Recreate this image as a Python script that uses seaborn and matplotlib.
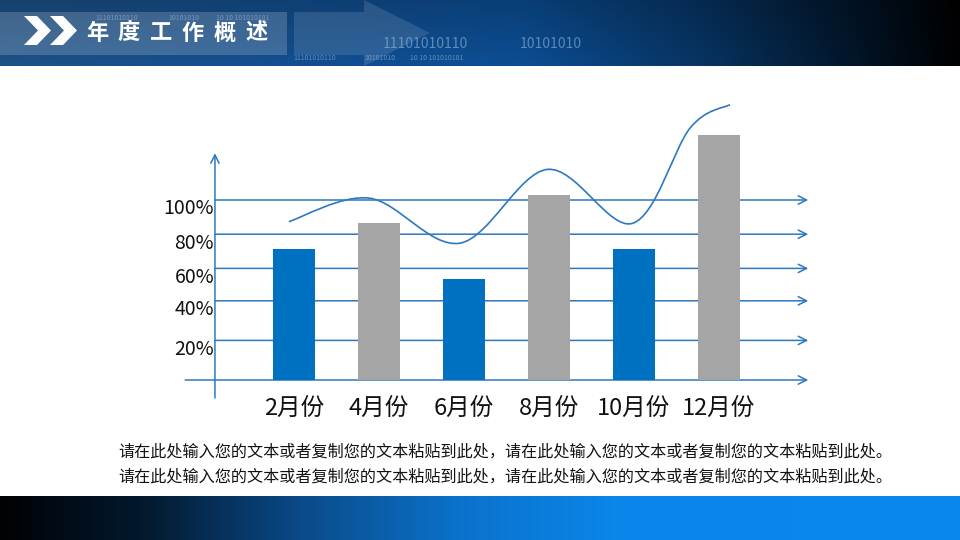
import numpy as np
import pandas as pd
import matplotlib
matplotlib.use("Agg")
import matplotlib.pyplot as plt
import seaborn as sns
from matplotlib.path import Path
from matplotlib.patches import PathPatch, Polygon, Rectangle

# ---- data ----
months = ["2月份", "4月份", "6月份", "8月份", "10月份", "12月份"]
bar_values = [73, 87, 56, 103, 73, 136]
bar_colors = ["#0070C0", "#A5A5A5", "#0070C0", "#A5A5A5", "#0070C0", "#A5A5A5"]

grid_levels = [0, 22, 44, 62, 81, 100]
grid_labels = ["", "20%", "40%", "60%", "80%", "100%"]

# anchor points of the smooth trend line (x in category units)
curve_x = [-0.06, 0.89, 1.95, 2.98, 3.98, 4.66, 5.13]
curve_y = [88, 101, 76, 117, 87, 140, 153]

title = "年度工作概述"
note = "请在此处输入您的文本或者复制您的文本粘贴到此处，请在此处输入您的文本或者复制您的文本粘贴到此处。"

line_col = "#2E78C0"

sns.set_theme(style="white")
plt.rcParams["font.family"] = ["Noto Sans CJK SC", "DejaVu Sans"]

fig = plt.figure(figsize=(9.6, 5.4), dpi=100)

# background layer in pixel units
bg = fig.add_axes([0, 0, 1, 1], zorder=0)
bg.set_xlim(0, 960)
bg.set_ylim(540, 0)
bg.axis("off")


def hgrad(stops, cols, width=960, height=1):
    xs = np.arange(width)
    rgb = np.array([matplotlib.colors.to_rgb(c) for c in cols])
    row = np.stack([np.interp(xs, stops, rgb[:, k]) for k in range(3)], axis=-1)
    return np.repeat(row[None, :, :], height, axis=0)


# header band
head = hgrad([0, 300, 520, 700, 860, 960],
             ["#1d5288", "#134f90", "#0c4e94", "#073463", "#021427", "#000000"], height=66)
shade = np.linspace(0.8, 1.0, 66)[:, None, None]
bg.imshow(head * shade, extent=(0, 960, 66, 0), aspect="auto", zorder=0)
bg.add_patch(Rectangle((0, 12), 287, 43, color="white", alpha=0.18, lw=0, zorder=1))
bg.add_patch(Polygon([(294, 12), (364, 12), (364, 0), (430, 33), (364, 66), (364, 55), (294, 55)],
                     closed=True, color="white", alpha=0.12, lw=0, zorder=1))
for x0 in (24, 50):
    bg.add_patch(Polygon([(x0, 16), (x0 + 13, 16), (x0 + 27, 30.5), (x0 + 13, 45), (x0, 45), (x0 + 14, 30.5)],
                         closed=True, color="white", lw=0, zorder=2))
for i, ch in enumerate(title):
    bg.text(97 + i * 32, 33, ch, color="white", fontsize=16, fontweight="bold",
            ha="center", va="center", zorder=3)

deco = dict(color="#9fc2e6", alpha=0.55, va="center", zorder=2)
bg.text(383, 44, "11101010110", fontsize=10, **deco)
bg.text(520, 44, "10101010", fontsize=10, **deco)
for x0, s in [(95, "11101010110"), (168, "10101010"), (216, "10 10 101010101")]:
    bg.text(x0, 18, s, fontsize=5, **deco)
for x0, s in [(293, "11101010110"), (364, "10101010"), (410, "10 10 101010101")]:
    bg.text(x0, 58, s, fontsize=5, **deco)

# footer band
foot = hgrad([0, 140, 300, 460, 620, 960],
             ["#000204", "#03182c", "#0a4a88", "#0a72cc", "#0a86ea", "#0a88ee"], height=44)
bg.imshow(foot, extent=(0, 960, 540, 496), aspect="auto", zorder=0)

for yy in (452, 477):
    bg.text(118, yy, note, fontsize=11.6, color="#111111", ha="left", va="center", zorder=3)

# chart layer: data units mapped onto the slide
ax = fig.add_axes([0, 0, 1, 1], zorder=1)
ax.patch.set_alpha(0)
df = pd.DataFrame({"month": months, "value": bar_values})
sns.barplot(data=df, x="month", y="value", hue="month", palette=bar_colors,
            width=0.5, saturation=1, legend=False, ax=ax, zorder=3,
            edgecolor="none", linewidth=0)
ax.set_xlim(-294 / 85, 666 / 85)
ax.set_ylim(-160 / 1.8, 380 / 1.8)
ax.axis("off")

x_axis = -0.93
x_end = 6.05
for lvl, lab in zip(grid_levels, grid_labels):
    start = -1.28 if lvl == 0 else x_axis
    ax.annotate("", xy=(x_end, lvl), xytext=(start, lvl),
                arrowprops=dict(arrowstyle="->", color=line_col, lw=1.1,
                                mutation_scale=15, shrinkA=0, shrinkB=0), zorder=2)
    if lab:
        ax.text(x_axis - 0.01, lvl - 5, lab, fontsize=14, ha="right", va="center", color="#111111")

ax.annotate("", xy=(x_axis, 126), xytext=(x_axis, -10),
            arrowprops=dict(arrowstyle="->", color=line_col, lw=1.1,
                            mutation_scale=15, shrinkA=0, shrinkB=0), zorder=2)

for i, m in enumerate(months):
    ax.text(i, -16, m, fontsize=17, ha="center", va="center", color="#111111")

# smooth trend line (Catmull-Rom through anchors, drawn as Bezier path)
pts = np.column_stack([curve_x, curve_y])
ext = np.vstack([pts[0], pts, pts[-1]])
verts = [tuple(pts[0])]
codes = [Path.MOVETO]
for k in range(1, len(ext) - 2):
    p0, p1, p2, p3 = ext[k - 1], ext[k], ext[k + 1], ext[k + 2]
    verts += [tuple(p1 + (p2 - p0) / 6), tuple(p2 - (p3 - p1) / 6), tuple(p2)]
    codes += [Path.CURVE4] * 3
ax.add_patch(PathPatch(Path(verts, codes), fill=False, edgecolor=line_col, lw=1.2, zorder=4))

fig.savefig("out.png", dpi=100)
